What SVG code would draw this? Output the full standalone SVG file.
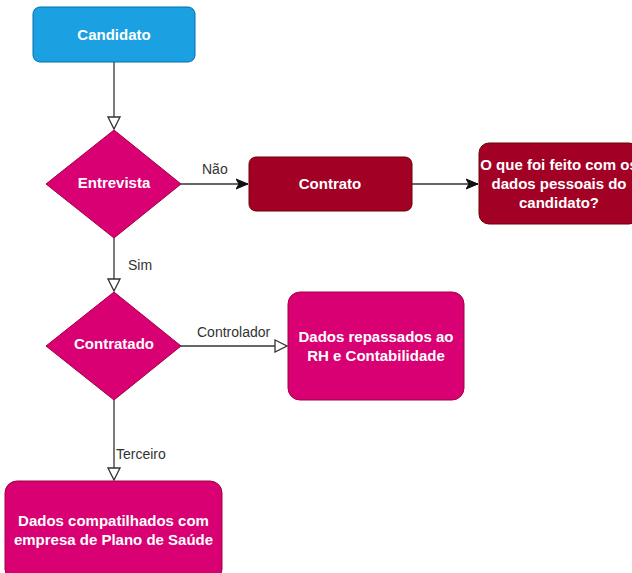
<svg xmlns="http://www.w3.org/2000/svg" width="632" height="573" viewBox="0 0 632 573">
<style>
.nt{font-family:"Liberation Sans",Arial,sans-serif;font-size:15px;font-weight:bold;fill:#ffffff;text-anchor:middle}
.lb{font-family:"Liberation Sans",Arial,sans-serif;font-size:14px;fill:#333333}
.e{stroke:#333333;stroke-width:1.3;fill:none}
.pink{fill:#D80073;stroke:#A50040;stroke-width:1}
.red{fill:#A20025;stroke:#6F0000;stroke-width:1}
</style>
<defs>
<marker id="open" markerWidth="14" markerHeight="14" refX="13" refY="7" orient="auto" markerUnits="userSpaceOnUse">
<path d="M1,1 L13,7 L1,13 Z" fill="#ffffff" stroke="#333333" stroke-width="1.3"/>
</marker>
<marker id="fill" markerWidth="14" markerHeight="12" refX="12" refY="6" orient="auto" markerUnits="userSpaceOnUse">
<path d="M0,1 L12,6 L0,11 L3,6 Z" fill="#111111" stroke="#111111" stroke-width="1"/>
</marker>
</defs>
<rect width="632" height="573" fill="#ffffff"/>
<g id="connectors">
<path class="e" d="M114,62 L114,129" marker-end="url(#open)"/>
<path class="e" d="M181,184 L248,184" marker-end="url(#fill)"/>
<path class="e" d="M412,184 L478,184" marker-end="url(#fill)"/>
<path class="e" d="M114,238 L114,291" marker-end="url(#open)"/>
<path class="e" d="M181,346 L287,346" marker-end="url(#open)"/>
<path class="e" d="M114,400 L114,480" marker-end="url(#open)"/>
<text class="lb" x="202" y="174">Não</text>
<text class="lb" x="128" y="270">Sim</text>
<text class="lb" x="197" y="337">Controlador</text>
<text class="lb" x="116" y="459">Terceiro</text>
</g>
<g id="candidato">
<rect x="33" y="7" width="162" height="55" rx="7" fill="#1BA1E2" stroke="#006EAF" stroke-width="1"/>
<text class="nt" x="114" y="40">Candidato</text>
</g>
<g id="entrevista">
<path class="pink" d="M114,130 L181,184 L114,238 L46,184 Z"/>
<text class="nt" x="114" y="188">Entrevista</text>
</g>
<g id="contrato">
<rect class="red" x="249" y="157" width="163" height="54" rx="7"/>
<text class="nt" x="330" y="189">Contrato</text>
</g>
<g id="oque">
<rect class="red" x="479" y="143" width="160" height="81" rx="10"/>
<text class="nt" x="559" y="170">O que foi feito com os</text>
<text class="nt" x="559" y="189">dados pessoais do</text>
<text class="nt" x="559" y="208">candidato?</text>
</g>
<g id="contratado">
<path class="pink" d="M114,292 L181,346 L114,400 L46,346 Z"/>
<text class="nt" x="114" y="349">Contratado</text>
</g>
<g id="repassados">
<rect class="pink" x="288" y="292" width="176" height="108" rx="12"/>
<text class="nt" x="376" y="342">Dados repassados ao</text>
<text class="nt" x="376" y="361">RH e Contabilidade</text>
</g>
<g id="compartilhados">
<rect class="pink" x="5" y="481" width="217" height="100" rx="12"/>
<text class="nt" x="113.5" y="526">Dados compatilhados com</text>
<text class="nt" x="113.5" y="545">empresa de Plano de Saúde</text>
</g>
</svg>
